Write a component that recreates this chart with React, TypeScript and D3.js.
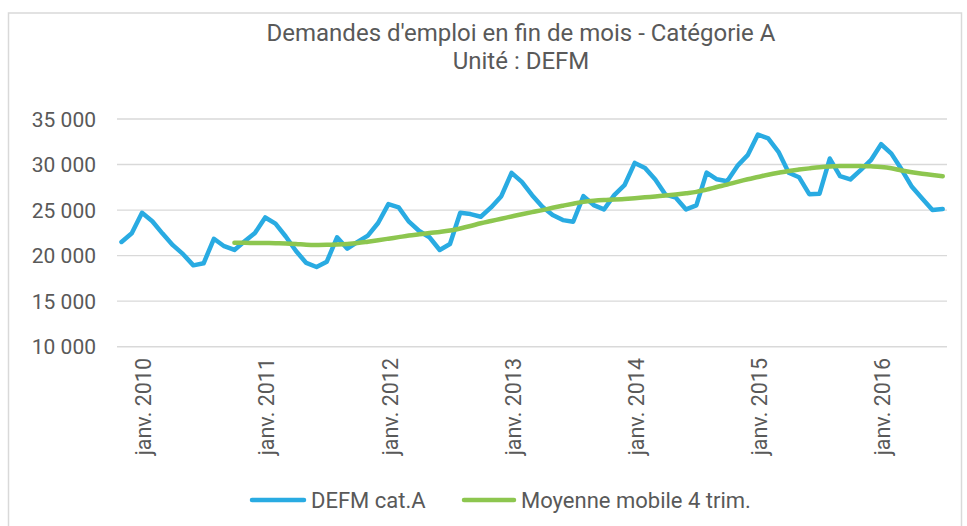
import React from 'react'
import * as d3 from 'd3'

// monthly categories, Nov 2009 .. Jul 2016
const months = d3.timeMonth.range(new Date(2009, 10, 1), new Date(2016, 7, 1))

const defmCatA = [
  21500, 22450, 24700, 23780, 22420, 21150, 20160, 18930, 19160, 21850,
  21030, 20620, 21570, 22480, 24190, 23510, 22100, 20500, 19200, 18750,
  19330, 22010, 20760, 21500, 22200, 23580, 25650, 25300, 23725, 22704,
  22013, 20618, 21277, 24700, 24560, 24270, 25290, 26530, 29090, 28100,
  26640, 25370, 24450, 23900, 23720, 26530, 25550, 25070, 26640, 27730,
  30180, 29630, 28350, 26690, 26360, 25070, 25510, 29120, 28380, 28160,
  29850, 31030, 33300, 32870, 31400, 29100, 28610, 26750, 26800, 30660,
  28720, 28360, 29380, 30480, 32230, 31200, 29450, 27550, 26280, 25000,
  25110,
]

// 4-quarter moving average, starts at the 12th month (Oct 2010)
const movingAvgStart = 11
const movingAvg = [
  21420, 21400, 21390, 21380, 21360, 21340, 21280, 21200, 21170, 21180,
  21220, 21280, 21380, 21530, 21690, 21860, 22030, 22200, 22340, 22480,
  22600, 22750, 22980, 23250, 23550, 23800, 24050, 24300, 24550, 24780,
  25000, 25250, 25480, 25700, 25900, 26020, 26100, 26150, 26220, 26300,
  26400, 26500, 26600, 26720, 26850, 27000, 27250, 27530, 27800, 28100,
  28380, 28630, 28880, 29100, 29300, 29450, 29580, 29700, 29780, 29830,
  29850, 29840, 29800, 29740, 29600, 29350, 29150, 28980, 28840, 28720,
]

const yTicks = [10000, 15000, 20000, 25000, 30000, 35000]
const xTickYears = [2010, 2011, 2012, 2013, 2014, 2015, 2016]
const seriesNames = ['DEFM cat.A', 'Moyenne mobile 4 trim.']
const titleLines = ["Demandes d'emploi en fin de mois - Catégorie A", 'Unité : DEFM']

const BLUE = '#29ABE2'
const GREEN = '#8DC64F'
const TEXT = '#595959'
const GRID = '#D9D9D9'
const FONT = 'Roboto, sans-serif'

const fmt = (v: number) => d3.format(',')(v).replace(/,/g, ' ')

const App = () => {
  const width = 967
  const height = 526
  const plot = { left: 117, right: 947, top: 119, bottom: 346.7 }

  const idx = months.map((_, i) => i)
  const xScale = d3.scalePoint<number>().domain(idx).range([121.5, 942.7])
  const yScale = d3.scaleLinear().domain([10000, 35000]).range([plot.bottom, plot.top])

  const blueLine = d3.line<number>()
    .x((_, i) => xScale(i) as number)
    .y(d => yScale(d))
  const greenLine = d3.line<number>()
    .x((_, i) => xScale(i + movingAvgStart) as number)
    .y(d => yScale(d))
    .curve(d3.curveCatmullRom.alpha(0.5))

  const janIndex = (year: number) => months.findIndex(m => m.getFullYear() === year && m.getMonth() === 0)

  return (
    <svg width={width} height={height} style={{ position: 'absolute', left: 0, top: 0, background: '#fff' }} fontFamily={FONT}>
      <rect x={8.5} y={13} width={953} height={530} fill='none' stroke={GRID} strokeWidth={1.5} />

      {titleLines.map((t, i) => (
        <text key={t} x={521} y={41 + i * 28} textAnchor='middle' fontSize={24} fill={TEXT}>{t}</text>
      ))}

      {yTicks.map(v => (
        <g key={v}>
          <line x1={plot.left} x2={plot.right} y1={yScale(v)} y2={yScale(v)} stroke={GRID} strokeWidth={1.4} />
          <text x={96} y={yScale(v)} dy='0.36em' textAnchor='end' fontSize={21} fill={TEXT}>{fmt(v)}</text>
        </g>
      ))}

      {xTickYears.map(yr => {
        const x = (xScale(janIndex(yr)) as number) + 1.5
        return (
          <text key={yr} transform={`translate(${x},358) rotate(-90)`} textAnchor='end' dy='0.36em' fontSize={21.5} fill={TEXT}>
            {`janv. ${yr}`}
          </text>
        )
      })}

      <path d={blueLine(defmCatA) ?? ''} fill='none' stroke={BLUE} strokeWidth={4.5} strokeLinejoin='round' strokeLinecap='round' />
      <path d={greenLine(movingAvg) ?? ''} fill='none' stroke={GREEN} strokeWidth={4.5} strokeLinejoin='round' strokeLinecap='round' />

      <g>
        <line x1={252} x2={304} y1={500} y2={500} stroke={BLUE} strokeWidth={4.5} strokeLinecap='round' />
        <text x={311} y={500} dy='0.36em' fontSize={22} fill={TEXT}>{seriesNames[0]}</text>
        <line x1={464} x2={514} y1={500} y2={500} stroke={GREEN} strokeWidth={4.5} strokeLinecap='round' />
        <text x={521} y={500} dy='0.36em' fontSize={22} fill={TEXT}>{seriesNames[1]}</text>
      </g>
    </svg>
  )
}

export default App
